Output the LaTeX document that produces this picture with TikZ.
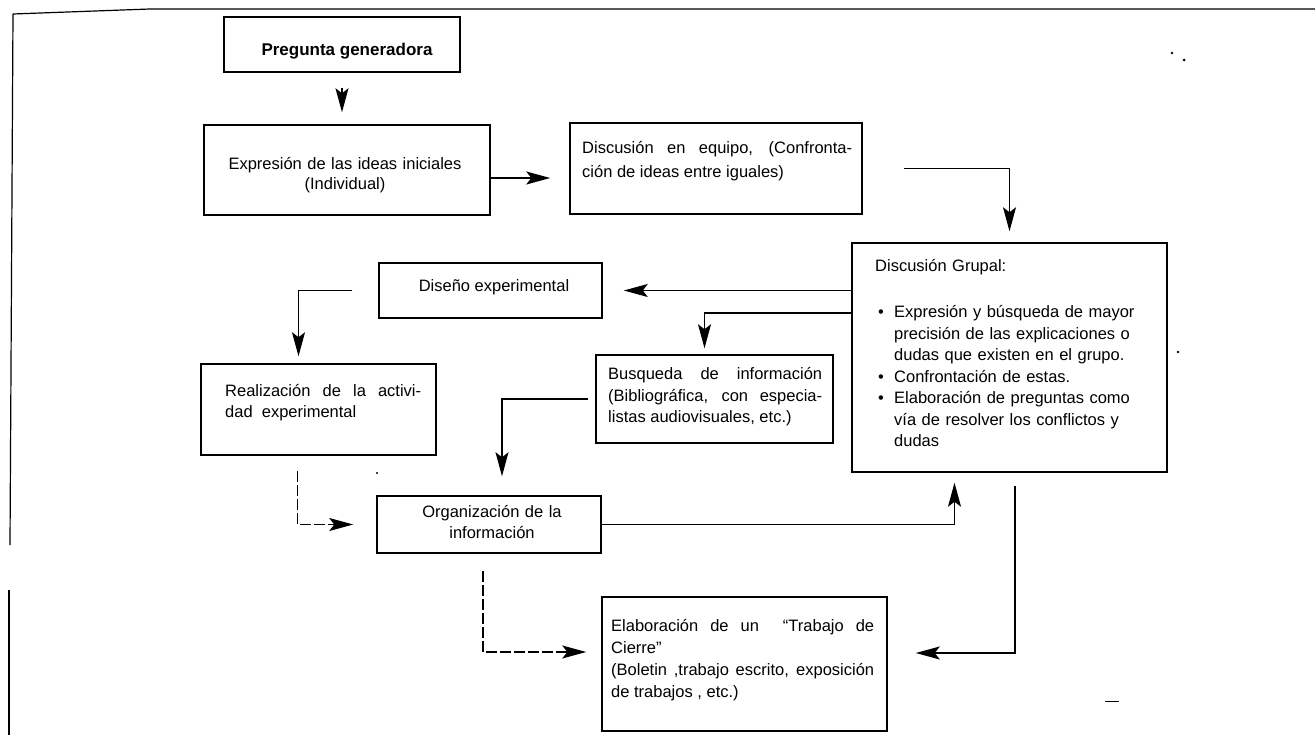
\documentclass[tikz,border=0pt]{standalone}
\usepackage{fontspec}
\setmainfont{Liberation Sans}
\usetikzlibrary{arrows.meta,calc}
\newcommand{\bulA}[1]{\makebox[19pt][l]{\hspace{3pt}\textbullet}\makebox[249pt][s]{#1}}
\newcommand{\bulB}[1]{\makebox[19pt][l]{\hspace{3pt}\textbullet}#1}
\newcommand{\bulC}[1]{\hspace*{19pt}\makebox[249pt][s]{#1}}
\newcommand{\bulD}[1]{\hspace*{19pt}#1}
\begin{document}
\begin{tikzpicture}[x=1pt,y=-1pt,
  bx/.style={draw, line width=1.5pt, inner sep=0pt},
  txt/.style={inner sep=0pt, font=\fontsize{16.5}{21.5}\selectfont},
  arr/.style={line width=1.3pt, -{Stealth[length=24pt,width=13pt,inset=5pt]}},
  dsh/.style={dash pattern=on 11pt off 3pt}]
\useasboundingbox (0,0) rectangle (1315,735);
\fill[white] (0,0) rectangle (1315,735);
% frame
\draw[line width=1.2pt] (13,14) -- (150,9) -- (1315,9);
\draw[line width=1.2pt] (13,14) -- (10,545);
\draw[line width=1.2pt] (9,590) -- (9,735);
% boxes
\node[bx, minimum width=236pt, minimum height=55pt] (preg) at (342,44.5) {};
\node[bx, minimum width=286pt, minimum height=90pt] (expr) at (347,170) {};
\node[bx, minimum width=292pt, minimum height=91pt] (equi) at (716,168.5) {};
\node[bx, minimum width=315pt, minimum height=229pt] (grup) at (1009.5,357.5) {};
\node[bx, minimum width=223pt, minimum height=55pt] (dise) at (490.5,290.5) {};
\node[bx, minimum width=237pt, minimum height=88pt] (busq) at (714.5,399) {};
\node[bx, minimum width=235pt, minimum height=91pt] (real) at (318.5,409.5) {};
\node[bx, minimum width=224pt, minimum height=57pt] (orga) at (489,524.5) {};
\node[bx, minimum width=285pt, minimum height=134pt] (elab) at (744.5,664) {};
% texts
\node[txt, anchor=base, font=\fontsize{17}{21}\selectfont\bfseries] (preg-t) at (347,56) {Pregunta generadora};
\node[txt, anchor=base, text width=280pt, align=center, font=\fontsize{16.5}{20}\selectfont] (expr-t) at (345,170) {Expresión de las ideas iniciales\\(Individual)};
\node[txt, anchor=base west, text width=270pt, align=justify, font=\fontsize{16.5}{24}\selectfont] (equi-t) at (582,154) {Discusión en equipo, (Confronta-\linebreak ción de ideas entre iguales)};
\node[txt, anchor=base west, text width=270pt, align=left] (grup-t) at (875,272) {Discusión Grupal:\\[24.5pt]
\bulA{Expresión y búsqueda de mayor}\\
\bulC{precisión de las explicaciones o}\\
\bulD{dudas que existen en el grupo.}\\
\bulB{Confrontación de estas.}\\
\bulA{Elaboración de preguntas como}\\
\bulC{vía de resolver los conflictos y}\\
\bulD{dudas}};
\node[txt, anchor=base] (dise-t) at (494,292) {Diseño experimental};
\node[txt, anchor=base west, text width=214pt, align=justify] (busq-t) at (608,380) {Busqueda de información\linebreak (Bibliográfica, con especia-\linebreak listas audiovisuales, etc.)};
\node[txt, anchor=base west, text width=196pt, align=justify] (real-t) at (225,396) {Realización de la activi-\linebreak dad\ \ experimental};
\node[txt, anchor=base, text width=210pt, align=center, font=\fontsize{16.5}{21}\selectfont] (orga-t) at (492,517) {Organización de la\\información};
\node[txt, anchor=base west, text width=263pt, align=justify, font=\fontsize{16.5}{22}\selectfont] (elab-t) at (611,631) {Elaboración de un \ “Trabajo de\linebreak Cierre”\\(Boletin ,trabajo escrito, exposición\linebreak de trabajos , etc.)};
% helper coordinates
\coordinate (e1) at ($(expr.east)+(0,8)$);
\coordinate (g2) at ($(grup.west)+(0,-44.5)$);
\coordinate (r1) at ($(real.south)+(-21,0)$);
\coordinate (o2) at ($(orga.south)+(-6,0)$);
\coordinate (g3) at ($(grup.south)+(5.5,0)$);
% connectors
\draw[arr, shorten <=15pt, shorten >=12pt] (preg.south) -- (preg.south |- expr.north);
\draw[arr, shorten >=19pt] (e1) -- (e1 -| equi.west);
\draw[arr, shorten <=41pt, shorten >=11pt] (equi.east) -| (grup.north);
\draw[arr, shorten >=21pt] (grup.west |- dise.east) -- (dise.east);
\draw[arr, shorten >=6pt] (g2) -| ($(busq.north)+(-10,0)$);
\draw[arr, shorten <=26pt, shorten >=7pt] (dise.west) -| ($(real.north)+(-20,0)$);
\draw[arr, shorten <=7pt, shorten >=19pt] (busq.west) -| ($(orga.north)+(13,0)$);
\draw[arr, dsh, shorten <=15pt, shorten >=23pt] (r1) |- (orga.west);
\draw[arr, dsh, shorten <=17pt, shorten >=15pt] (o2) |- ($(elab.west)+(0,-12)$);
\draw[arr, shorten >=10pt] (orga.east) -| ($(grup.south)+(-55,0)$);
\draw[arr, shorten <=13pt, shorten >=28pt] (g3) |- ($(elab.east)+(0,-11)$);
% specks
\fill (1172,53) circle (1.3pt);
\fill (1184,60) circle (1.5pt);
\fill (1178,352) circle (1.3pt);
\fill (377,473) circle (1.1pt);
\draw[line width=1pt] (1105,701) -- (1119,701);
\end{tikzpicture}
\end{document}
